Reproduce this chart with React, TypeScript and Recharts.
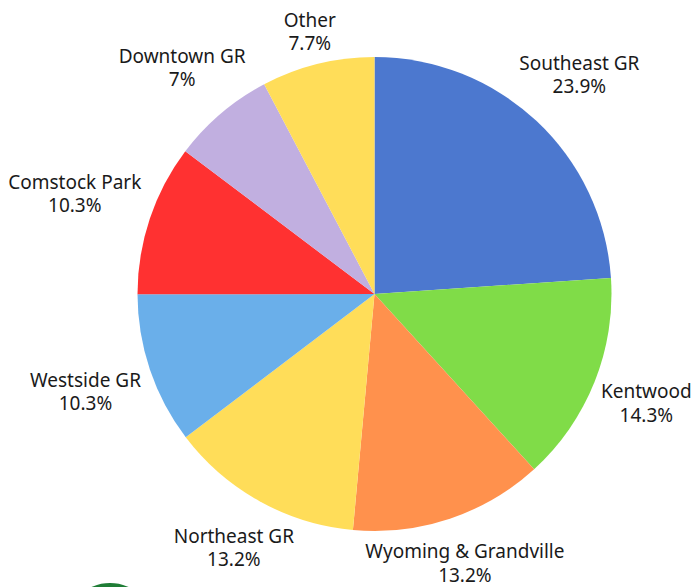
import { Cell, Pie, PieChart } from "recharts";

const NAMES = [
  "Southeast GR",
  "Kentwood",
  "Wyoming & Grandville",
  "Northeast GR",
  "Westside GR",
  "Comstock Park",
  "Downtown GR",
  "Other",
];
const VALUES = [23.9, 14.3, 13.2, 13.2, 10.3, 10.3, 7, 7.7];
const COLORS = ["#4c78cf", "#80dc48", "#ff914d", "#ffdd59", "#6aafea", "#ff3131", "#c1afe0", "#ffdd59"];
// how far each label's centre sits from the pie centre
const LABEL_RADII = [300, 293, 284, 290, 305, 316, 297, 270];

const data = NAMES.map((name, i) => ({ name, value: VALUES[i] }));

const RADIAN = Math.PI / 180;

function renderLabel(props: any) {
  const { cx, cy, midAngle, index } = props;
  const r = LABEL_RADII[index];
  const x = cx + r * Math.cos(-midAngle * RADIAN);
  const y = cy + r * Math.sin(-midAngle * RADIAN);
  return (
    <text
      key={index}
      x={x}
      y={y}
      textAnchor="middle"
      fill="#1a1a1a"
      fontSize={19}
      fontFamily="'Noto Sans', sans-serif"
    >
      <tspan x={x} dy={-5}>
        {NAMES[index]}
      </tspan>
      <tspan x={x} dy={23.5}>
        {VALUES[index]}%
      </tspan>
    </text>
  );
}

export default function App() {
  return (
    <div
      style={{
        position: "absolute",
        left: 0,
        top: 0,
        width: 694,
        height: 587,
        overflow: "hidden",
        background: "#fff",
      }}
    >
      <PieChart width={694} height={587} margin={{ top: 0, right: 0, bottom: 0, left: 0 }}>
        <Pie
          data={data}
          dataKey="value"
          nameKey="name"
          cx={374.5}
          cy={294}
          outerRadius={237}
          startAngle={90}
          endAngle={-270}
          stroke="none"
          label={renderLabel}
          labelLine={false}
          isAnimationActive={false}
        >
          {data.map((d, i) => (
            <Cell key={d.name} fill={COLORS[i]} />
          ))}
        </Pie>
      </PieChart>
      {/* edge of the green badge cropped by the bottom of the picture */}
      <div
        style={{
          position: "absolute",
          left: 65,
          top: 583,
          width: 90,
          height: 90,
          borderRadius: "50%",
          background: "#1f7d36",
        }}
      />
    </div>
  );
}
